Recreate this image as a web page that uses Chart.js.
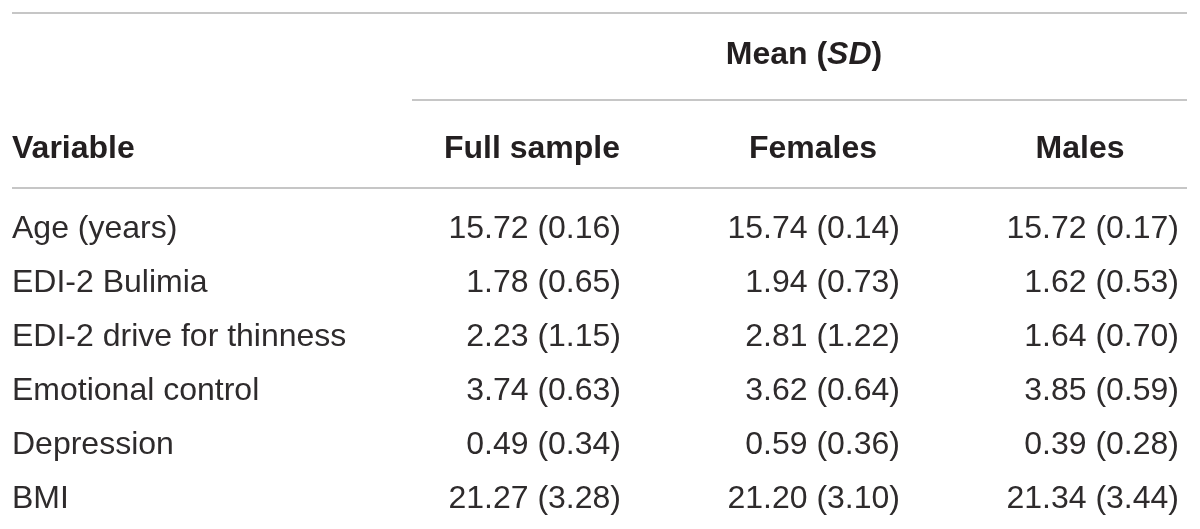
<!DOCTYPE html>
<html>
<head>
<meta charset="utf-8">
<script src="https://cdn.jsdelivr.net/npm/chart.js@4"></script>
<style>
  html, body { margin: 0; padding: 0; background: #ffffff; }
  #wrap { width: 1200px; height: 529px; position: relative; }
</style>
</head>
<body>
<div id="wrap"><canvas id="table-chart"></canvas></div>
<script>
// table content
const groupTitle = "Mean (SD)";
const rowHeader = "Variable";
const columns = ["Full sample", "Females", "Males"];
const variables = [
  "Age (years)",
  "EDI-2 Bulimia",
  "EDI-2 drive for thinness",
  "Emotional control",
  "Depression",
  "BMI"
];
const fullSample = ["15.72 (0.16)", "1.78 (0.65)", "2.23 (1.15)", "3.74 (0.63)", "0.49 (0.34)", "21.27 (3.28)"];
const females = ["15.74 (0.14)", "1.94 (0.73)", "2.81 (1.22)", "3.62 (0.64)", "0.59 (0.36)", "21.20 (3.10)"];
const males = ["15.72 (0.17)", "1.62 (0.53)", "1.64 (0.70)", "3.85 (0.59)", "0.39 (0.28)", "21.34 (3.44)"];

const seriesValues = [fullSample, females, males];

const textColor = "#231f20";
const bodyColor = "#2e2b2c";
const ruleColor = "#c6c6c6";
const bodyFont = "32px 'Liberation Sans', Arial, sans-serif";
const boldFont = "bold 32px 'Liberation Sans', Arial, sans-serif";

//one dataset per column, one point per cell
const datasets = columns.map((col, c) => ({
  label: col,
  data: variables.map((v, r) => ({ x: col, y: v, text: seriesValues[c][r] })),
  showLine: false,
  pointRadius: 0,
  pointHoverRadius: 0
}));

//draws the rules, the headers and every cell text at the positions the scales give
const tablePlugin = {
  id: "tableText",
  afterDatasetsDraw(chart) {
    const ctx = chart.ctx;
    const xScale = chart.scales.x;
    const yScale = chart.scales.y;
    const firstRow = yScale.getPixelForValue(0);
    const leftX = 12;
    const rightX = 1187;
    const halfCol = 89;
    const headShift = [0, 2, -10];

    ctx.save();

    //horizontal rules
    ctx.strokeStyle = ruleColor;
    ctx.lineWidth = 2;
    const rule = (x1, y, x2) => {
      ctx.beginPath();
      ctx.moveTo(x1, y);
      ctx.lineTo(x2, y);
      ctx.stroke();
    };
    rule(leftX, firstRow - 216, rightX);
    rule(412, firstRow - 129, rightX);
    rule(leftX, firstRow - 41, rightX);

    ctx.fillStyle = textColor;
    ctx.textBaseline = "middle";

    //group title with italic SD
    const titleY = firstRow - 174;
    const titleCenter = 804;
    const parts = [["Mean (", boldFont], ["SD", "italic " + boldFont], [")", boldFont]];
    let total = 0;
    parts.forEach(p => { ctx.font = p[1]; total += ctx.measureText(p[0]).width; });
    let tx = titleCenter - total / 2;
    ctx.textAlign = "left";
    parts.forEach(p => {
      ctx.font = p[1];
      ctx.fillText(p[0], tx, titleY);
      tx += ctx.measureText(p[0]).width;
    });

    //column header row
    const headY = firstRow - 80;
    ctx.font = boldFont;
    ctx.textAlign = "left";
    ctx.fillText(rowHeader, leftX, headY);
    ctx.textAlign = "center";
    columns.forEach((col, c) => {
      ctx.fillText(col, xScale.getPixelForValue(c) + headShift[c], headY);
    });

    //body
    ctx.font = bodyFont;
    ctx.fillStyle = bodyColor;
    variables.forEach((v, r) => {
      ctx.textAlign = "left";
      ctx.fillText(v, leftX, yScale.getPixelForValue(r));
    });
    ctx.textAlign = "right";
    chart.data.datasets.forEach((ds, i) => {
      const meta = chart.getDatasetMeta(i);
      meta.data.forEach((pt, j) => {
        ctx.fillText(ds.data[j].text, pt.x + halfCol, pt.y);
      });
    });

    ctx.restore();
  }
};

new Chart("table-chart", {
  type: "line",
  data: { datasets: datasets },
  options: {
    responsive: true,
    maintainAspectRatio: false,
    animation: false,
    events: [],
    layout: {
      padding: { left: 532, right: 110, top: 229, bottom: 30 }
    },
    plugins: {
      legend: { display: false },
      tooltip: { enabled: false }
    },
    scales: {
      x: { type: "category", labels: columns, offset: false, display: false },
      y: { type: "category", labels: variables, offset: false, display: false }
    }
  },
  plugins: [tablePlugin]
});
</script>
</body>
</html>
